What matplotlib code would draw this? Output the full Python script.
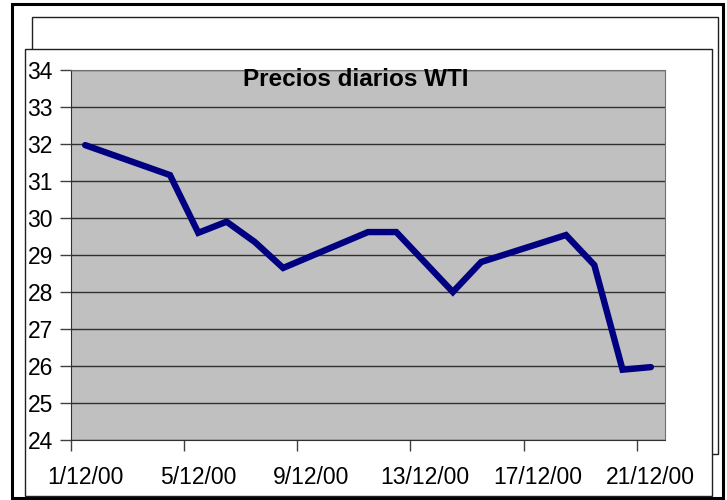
import matplotlib
matplotlib.use("Agg")
import matplotlib.pyplot as plt
from matplotlib.patches import Rectangle

plt.rcParams['font.family'] = ['Liberation Sans', 'DejaVu Sans']

# dias de diciembre 2000 con cotizacion
dias = [1, 4, 5, 6, 7, 8, 11, 12, 13, 14, 15, 18, 19, 20, 21]
precios = [31.97, 31.16, 29.60, 29.90, 29.35, 28.65, 29.62, 29.62, 28.81,
           28.00, 28.81, 29.54, 28.73, 25.90, 25.97]
dias_etiqueta = [1, 5, 9, 13, 17, 21]
y_ticks = list(range(24, 35))

W, H = 727, 500
fig = plt.figure(figsize=(W / 100, H / 100), dpi=100)


def caja(x0, y0, x1, y1, **kw):
    # rectangulo en pixeles de la imagen (origen arriba a la izquierda)
    r = Rectangle((x0 / W, 1 - y1 / H), (x1 - x0) / W, (y1 - y0) / H,
                  transform=fig.transFigure, **kw)
    fig.patches.append(r)


caja(12, 4, 723, 498, fill=False, edgecolor='black', linewidth=2.2, zorder=-3)
caja(32, 17, 718, 454, facecolor='white', edgecolor='#202020', linewidth=1.0, zorder=-2)
caja(25, 49, 712, 496, facecolor='white', edgecolor='#202020', linewidth=1.0, zorder=-1)

ax = fig.add_axes([71 / W, 60 / H, 594 / W, 370 / H])
ax.set_facecolor('#C0C0C0')
ax.plot(dias, precios, color='#000080', linewidth=4.6, solid_joinstyle='miter',
        solid_capstyle='round', zorder=3)

ax.set_xlim(0.5, 21.5)
ax.set_ylim(24, 34)
ax.set_yticks(y_ticks)
ax.yaxis.grid(True, color='#303030', linewidth=1.0)
ax.set_axisbelow(True)

ax.set_xticks(dias_etiqueta)
ax.set_xticklabels([f'{d}/12/00' for d in dias_etiqueta])
ax.set_xticks([0.5 + 4 * i for i in range(6)], minor=True)
ax.tick_params(axis='x', which='major', length=0, pad=19, labelsize=16.5)
ax.tick_params(axis='x', which='minor', length=8, color='#404040', width=1)
ax.tick_params(axis='y', length=8, color='#404040', width=1, pad=5, labelsize=16.5)

for s in ['left', 'bottom']:
    ax.spines[s].set_color('#303030')
for s in ['top', 'right']:
    ax.spines[s].set_color('#707070')

fig.text(356 / W, 1 - 68 / H, 'Precios diarios WTI', ha='center', va='top',
         fontsize=17.5, fontweight='bold')

fig.savefig('out.png', dpi=100)
